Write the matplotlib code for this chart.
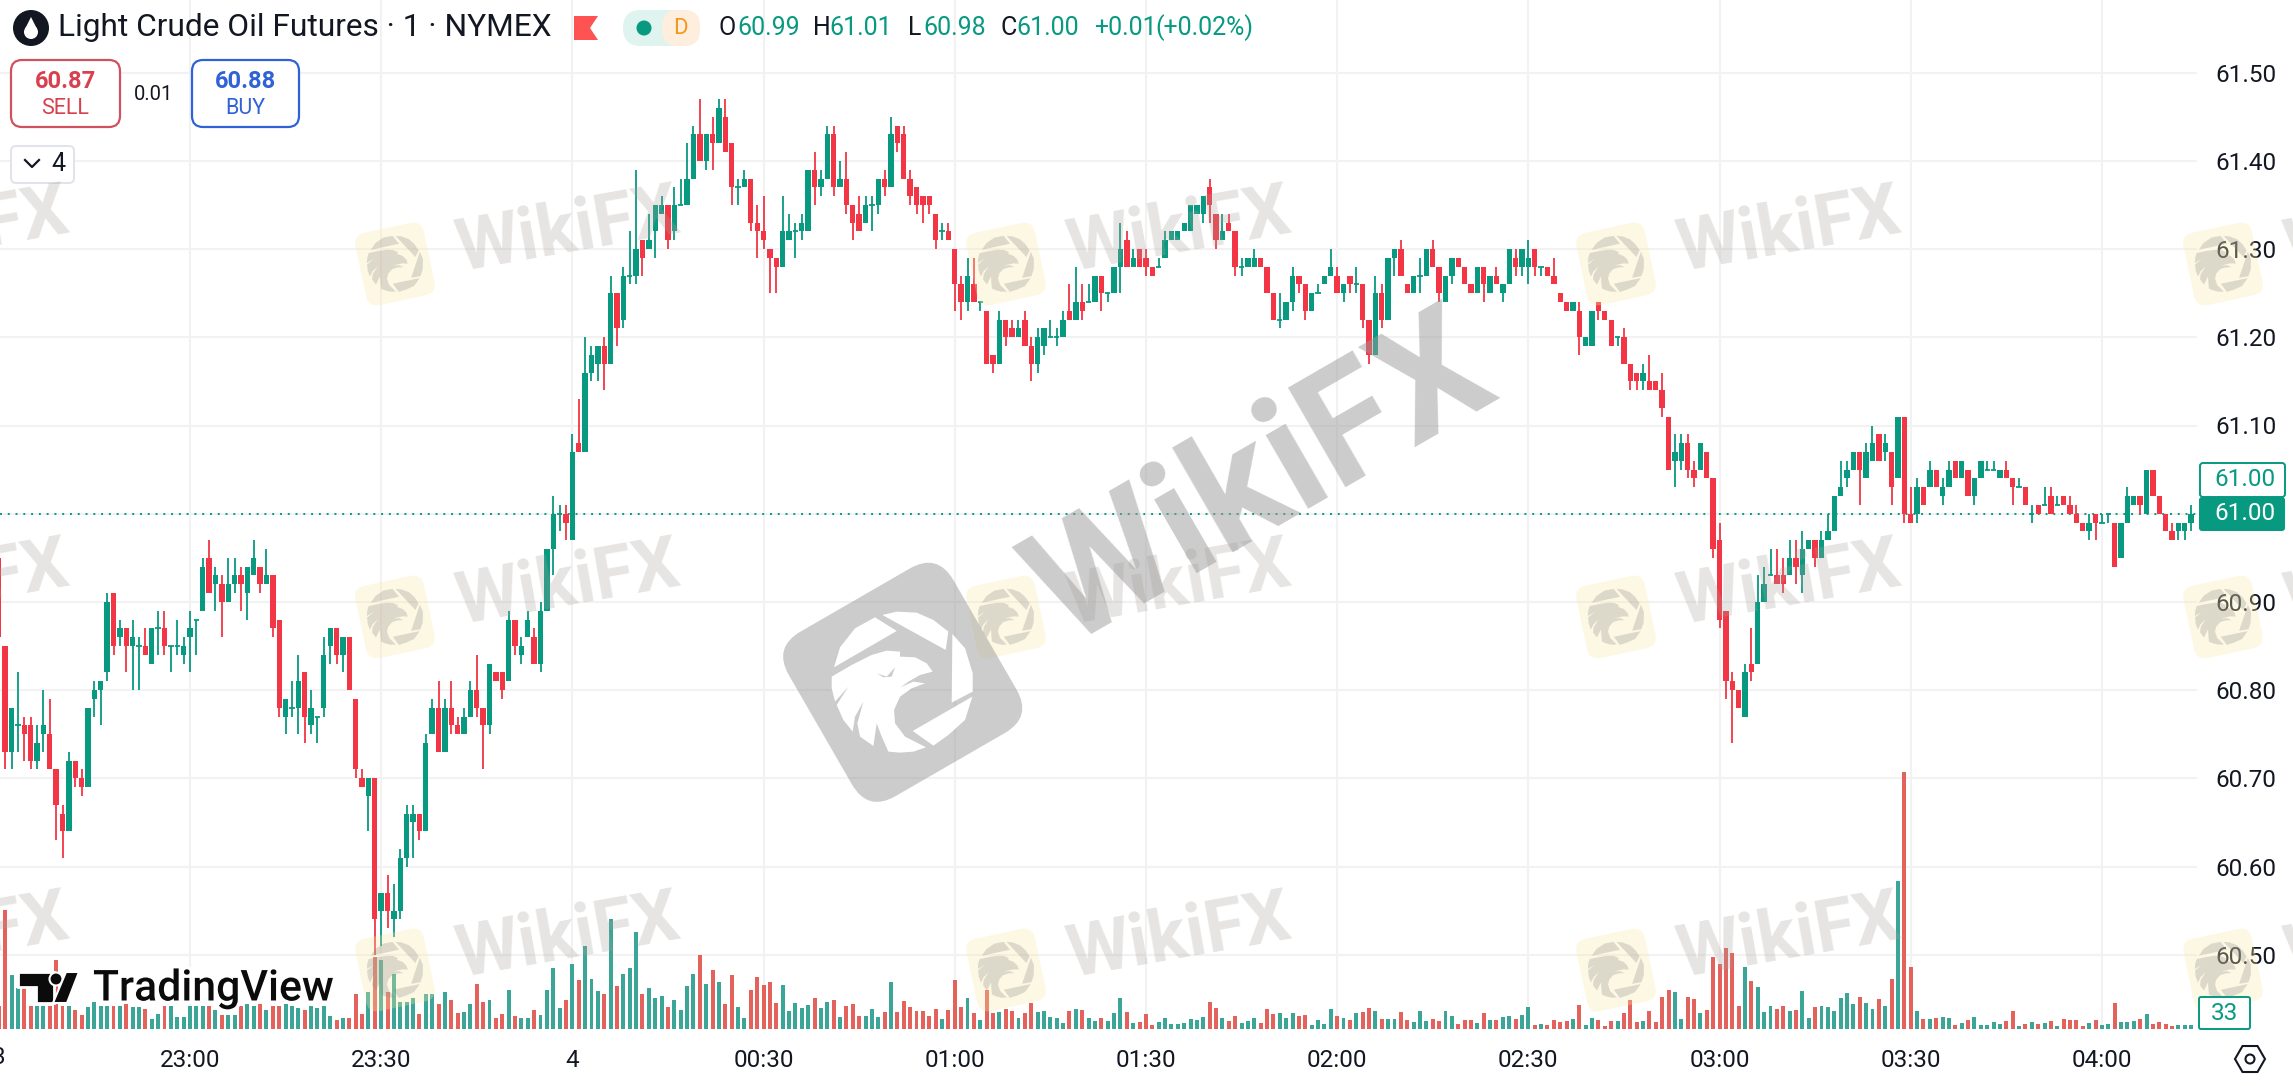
import matplotlib
matplotlib.use("Agg")
import matplotlib.pyplot as plt
import matplotlib.patheffects as pe
from matplotlib.patches import Circle, FancyBboxPatch, Polygon, RegularPolygon
from matplotlib.transforms import Affine2D
import numpy as np

W, H = 2293, 1086
plt.rcParams['font.family'] = ['Roboto', 'DejaVu Sans']

# Prices in cents above 60.00, one row per ten 1-minute bars, first bar is 22:30
opens = [
    95, 85, 73, 76, 76, 76, 72, 75, 75, 71,
    66, 64, 72, 70, 69, 79, 80, 82, 91, 86,
    87, 85, 85, 85, 83, 87, 87, 85, 85, 84,
    86, 88, 89, 95, 92, 92, 90, 92, 93, 91,
    93, 94, 92, 93, 88, 77, 78, 78, 82, 76,
    77, 78, 85, 87, 84, 86, 79, 70, 68, 70,
    55, 57, 54, 55, 61, 65, 66, 64, 75, 78,
    73, 78, 76, 75, 77, 80, 78, 76, 82, 82,
    81, 88, 84, 86, 86, 83, 89, 96, 100, 100,
    97, 108, 107, 116, 117, 119, 117, 125, 122, 127,
    127, 131, 130, 132, 134, 135, 132, 135, 135, 138,
    143, 140, 143, 142, 145, 142, 137, 137, 138, 133,
    132, 130, 129, 128, 131, 132, 132, 132, 139, 137,
    138, 143, 137, 138, 135, 134, 133, 135, 135, 138,
    137, 144, 143, 138, 137, 136, 136, 134, 132, 132,
    130, 126, 124, 126, 124, 123, 118, 117, 122, 121,
    120, 122, 119, 117, 119, 120, 120, 120, 123, 122,
    124, 124, 124, 127, 125, 125, 128, 131, 128, 130,
    129, 128, 128, 129, 131, 131, 132, 132, 134, 134,
    137, 134, 131, 133, 132, 128, 128, 128, 129, 128,
    125, 122, 122, 124, 127, 126, 123, 125, 126, 127,
    127, 125, 127, 126, 126, 122, 118, 125, 122, 129,
    130, 126, 125, 127, 127, 130, 128, 124, 127, 129,
    128, 126, 125, 128, 125, 127, 125, 126, 129, 128,
    128, 130, 128, 128, 127, 125, 124, 123, 123, 119,
    119, 124, 123, 122, 120, 120, 117, 116, 115, 115,
    115, 114, 111, 106, 106, 108, 105, 105, 107, 104,
    97, 89, 81, 80, 77, 83, 83, 90, 93, 93,
    93, 93, 95, 93, 96, 97, 95, 97, 98, 102,
    104, 105, 107, 104, 106, 109, 107, 107, 104, 111,
    100, 100, 103, 103, 105, 102, 103, 106, 104, 105,
    102, 104, 105, 105, 104, 105, 104, 103, 103, 100,
    101, 101, 102, 101, 102, 101, 100, 99, 98, 100,
    99, 100, 99, 95, 99, 101, 102, 100, 105, 102,
    100, 98, 98, 98, 99,
]
highs = [
    95, 85, 78, 82, 77, 77, 76, 80, 79, 71,
    67, 73, 72, 71, 78, 81, 81, 91, 91, 88,
    87, 88, 86, 87, 87, 89, 89, 85, 88, 86,
    89, 88, 95, 97, 94, 93, 95, 95, 94, 94,
    97, 94, 96, 93, 88, 79, 81, 84, 82, 80,
    77, 86, 87, 87, 86, 86, 79, 71, 70, 70,
    57, 59, 58, 62, 67, 67, 66, 75, 79, 81,
    79, 81, 77, 78, 81, 84, 78, 83, 82, 82,
    89, 88, 86, 89, 87, 90, 96, 102, 101, 101,
    109, 113, 120, 119, 119, 120, 127, 125, 128, 132,
    139, 131, 134, 135, 136, 135, 137, 138, 142, 144,
    147, 143, 145, 147, 147, 142, 138, 139, 138, 135,
    136, 130, 129, 136, 134, 133, 134, 139, 141, 139,
    144, 144, 140, 141, 135, 136, 136, 136, 138, 139,
    145, 144, 144, 139, 137, 136, 136, 134, 133, 133,
    130, 127, 129, 129, 124, 123, 118, 123, 122, 122,
    122, 123, 120, 121, 121, 122, 121, 123, 126, 128,
    126, 126, 127, 127, 125, 128, 133, 132, 130, 130,
    130, 128, 129, 132, 132, 132, 133, 135, 135, 136,
    138, 134, 134, 134, 132, 129, 129, 130, 129, 128,
    125, 125, 124, 128, 127, 126, 125, 126, 127, 130,
    128, 126, 127, 128, 126, 122, 127, 126, 129, 130,
    131, 126, 127, 129, 130, 131, 128, 127, 129, 129,
    128, 126, 128, 128, 127, 128, 126, 130, 130, 130,
    131, 130, 128, 128, 129, 125, 124, 124, 124, 120,
    123, 124, 123, 122, 120, 121, 117, 116, 117, 118,
    115, 116, 111, 109, 109, 109, 106, 108, 107, 104,
    99, 89, 82, 80, 83, 87, 93, 94, 96, 96,
    95, 97, 97, 98, 97, 97, 98, 100, 102, 106,
    106, 107, 107, 108, 110, 109, 109, 107, 111, 111,
    103, 104, 103, 106, 105, 104, 106, 106, 106, 105,
    104, 106, 106, 106, 105, 106, 104, 104, 103, 101,
    101, 103, 103, 102, 102, 102, 101, 99, 100, 100,
    100, 100, 99, 99, 103, 102, 102, 105, 105, 102,
    100, 99, 99, 99, 101,
]
lows = [
    86, 71, 71, 73, 72, 71, 71, 73, 71, 63,
    61, 64, 69, 68, 69, 77, 76, 81, 84, 85,
    82, 80, 80, 84, 83, 84, 84, 82, 84, 83,
    82, 84, 89, 91, 89, 86, 90, 91, 89, 88,
    93, 91, 92, 86, 77, 75, 77, 75, 74, 75,
    74, 77, 83, 83, 82, 80, 70, 69, 64, 50,
    51, 53, 52, 54, 60, 61, 63, 64, 75, 73,
    73, 75, 75, 75, 77, 77, 71, 75, 81, 79,
    81, 84, 83, 86, 83, 82, 89, 93, 98, 97,
    97, 107, 107, 115, 115, 114, 117, 119, 121, 126,
    126, 127, 130, 129, 134, 130, 131, 135, 135, 138,
    140, 139, 139, 142, 141, 135, 135, 137, 132, 129,
    130, 125, 125, 128, 131, 129, 131, 132, 135, 136,
    138, 136, 137, 134, 131, 132, 133, 132, 134, 136,
    137, 141, 138, 135, 134, 133, 134, 130, 131, 131,
    123, 122, 123, 124, 123, 117, 116, 117, 119, 120,
    120, 119, 115, 116, 118, 120, 119, 120, 122, 122,
    122, 124, 124, 123, 124, 125, 125, 128, 128, 128,
    127, 127, 128, 129, 131, 131, 132, 132, 134, 133,
    133, 130, 131, 132, 127, 127, 128, 128, 128, 125,
    122, 121, 122, 123, 125, 122, 123, 125, 126, 127,
    125, 124, 125, 125, 121, 117, 118, 121, 122, 127,
    127, 125, 125, 125, 127, 128, 124, 124, 126, 128,
    126, 125, 125, 124, 125, 126, 124, 126, 127, 127,
    126, 127, 127, 127, 126, 124, 123, 123, 118, 119,
    119, 122, 122, 119, 119, 117, 114, 114, 114, 114,
    114, 111, 105, 103, 105, 104, 103, 105, 104, 95,
    87, 79, 74, 78, 77, 81, 83, 90, 93, 92,
    91, 93, 92, 91, 96, 94, 95, 97, 98, 102,
    103, 105, 101, 104, 106, 106, 106, 101, 104, 99,
    99, 99, 101, 103, 103, 101, 103, 104, 104, 102,
    101, 104, 105, 105, 104, 104, 101, 103, 101, 99,
    100, 101, 100, 101, 101, 100, 99, 98, 97, 97,
    99, 99, 94, 95, 99, 101, 100, 100, 102, 100,
    98, 97, 97, 97, 98,
]
closes = [
    86, 73, 78, 76, 75, 72, 74, 76, 71, 67,
    64, 72, 70, 69, 78, 80, 81, 90, 85, 87,
    85, 86, 85, 84, 87, 87, 85, 85, 85, 85,
    87, 88, 94, 91, 93, 90, 92, 93, 92, 94,
    95, 92, 93, 87, 78, 79, 78, 81, 77, 78,
    77, 84, 87, 84, 86, 80, 71, 69, 70, 54,
    57, 55, 55, 61, 66, 66, 64, 74, 78, 73,
    78, 76, 75, 77, 80, 78, 76, 83, 81, 80,
    88, 85, 85, 88, 83, 89, 96, 100, 100, 99,
    107, 107, 116, 118, 119, 117, 125, 121, 127, 127,
    130, 129, 131, 135, 135, 131, 135, 135, 138, 143,
    140, 143, 142, 146, 141, 137, 137, 138, 133, 132,
    131, 129, 128, 132, 132, 132, 133, 139, 137, 138,
    143, 137, 138, 135, 133, 132, 135, 135, 138, 137,
    143, 142, 138, 136, 135, 135, 135, 131, 132, 131,
    126, 124, 127, 124, 124, 117, 117, 122, 120, 120,
    121, 119, 117, 120, 121, 120, 120, 122, 122, 124,
    123, 124, 127, 125, 125, 128, 130, 128, 129, 128,
    128, 127, 128, 131, 132, 132, 133, 135, 135, 136,
    135, 131, 132, 132, 128, 128, 129, 129, 128, 125,
    122, 122, 124, 127, 126, 123, 125, 125, 127, 128,
    125, 126, 126, 126, 122, 118, 125, 122, 129, 130,
    127, 125, 127, 127, 130, 128, 125, 127, 129, 128,
    126, 125, 128, 126, 127, 126, 126, 130, 128, 130,
    129, 128, 128, 127, 126, 124, 123, 124, 120, 120,
    123, 123, 122, 119, 120, 117, 115, 115, 116, 114,
    114, 112, 105, 107, 108, 105, 104, 108, 104, 96,
    88, 81, 80, 78, 82, 82, 90, 92, 93, 92,
    92, 95, 94, 96, 97, 95, 97, 98, 102, 103,
    105, 107, 105, 107, 108, 106, 108, 103, 111, 100,
    99, 103, 101, 105, 103, 103, 105, 104, 106, 102,
    104, 106, 105, 105, 105, 104, 103, 103, 101, 100,
    100, 101, 100, 101, 101, 100, 99, 98, 99, 99,
    99, 100, 94, 99, 102, 102, 101, 105, 102, 100,
    98, 97, 99, 99, 100,
]
volumes = [
    170, 895, 402, 305, 305, 170, 170, 170, 170, 515,
    170, 170, 140, 102, 165, 200, 170, 170, 170, 170,
    190, 165, 165, 148, 72, 115, 170, 170, 90, 90,
    170, 170, 170, 170, 140, 102, 102, 102, 170, 190,
    170, 190, 145, 170, 170, 190, 170, 160, 140, 170,
    160, 170, 95, 65, 80, 80, 260, 115, 275, 540,
    520, 275, 410, 200, 200, 235, 115, 265, 265, 190,
    275, 215, 120, 125, 190, 340, 200, 215, 80, 110,
    290, 95, 85, 85, 145, 102, 290, 460, 155, 215,
    485, 365, 620, 372, 282, 260, 828, 320, 410, 460,
    730, 265, 310, 235, 245, 162, 215, 140, 320, 410,
    552, 335, 440, 350, 185, 402, 162, 80, 290, 388,
    328, 350, 192, 328, 132, 192, 158, 180, 232, 158,
    202, 218, 90, 172, 188, 98, 98, 150, 90, 128,
    352, 128, 210, 165, 135, 135, 98, 150, 75, 142,
    368, 165, 232, 120, 68, 292, 120, 128, 150, 135,
    82, 120, 195, 128, 135, 90, 82, 45, 135, 150,
    142, 82, 60, 82, 60, 120, 232, 128, 45, 52,
    112, 30, 52, 82, 38, 38, 45, 75, 68, 90,
    202, 158, 82, 60, 98, 45, 60, 82, 45, 150,
    112, 120, 82, 120, 98, 105, 30, 68, 38, 150,
    98, 82, 68, 120, 128, 158, 135, 75, 75, 75,
    128, 68, 52, 135, 60, 75, 60, 135, 98, 38,
    68, 68, 45, 120, 68, 68, 90, 98, 75, 105,
    165, 30, 38, 30, 68, 52, 60, 75, 180, 30,
    82, 68, 20, 58, 58, 118, 215, 50, 58, 132,
    50, 238, 290, 275, 72, 238, 222, 118, 140, 538,
    485, 605, 568, 170, 462, 358, 312, 125, 170, 148,
    170, 132, 140, 282, 80, 162, 170, 162, 132, 230,
    268, 185, 238, 192, 148, 222, 170, 372, 1108, 1925,
    462, 132, 72, 72, 80, 88, 80, 28, 42, 65,
    88, 28, 28, 50, 35, 58, 132, 20, 35, 50,
    35, 42, 58, 20, 72, 65, 65, 20, 42, 65,
    28, 35, 192, 50, 50, 58, 72, 110, 35, 50,
    35, 20, 28, 28, 33,
]
time_ticks = [0, 30, 60, 90, 120, 150, 180, 210, 240, 270, 300]
time_labels = ['23:00', '23:30', '4', '00:30', '01:00', '01:30', '02:00', '02:30', '03:00', '03:30', '04:00']
price_ticks = [60.5, 60.6, 60.7, 60.8, 60.9, 61.0, 61.1, 61.2, 61.3, 61.4, 61.5]
last_price = 61.00

GREEN = '#089981'
RED = '#f23645'
VOL_GREEN = '#3ba697'
VOL_RED = '#e4625c'
GRID = '#f2f2f3'

# minutes relative to 23:00
minutes = np.arange(len(opens)) - 30
o = 60 + np.array(opens) / 100
h = 60 + np.array(highs) / 100
l = 60 + np.array(lows) / 100
c = 60 + np.array(closes) / 100
up = c >= o
colors = [GREEN if u else RED for u in up]

fig = plt.figure(figsize=(W / 100, H / 100), dpi=100, facecolor='white')
ax = fig.add_axes([0, (H - 1030) / H, 2197 / W, 1030 / H])
ax.set_xlim(-29.81, 314.92)
ax.set_ylim(61.5 - 957.3 / 882, 61.5 + 72.7 / 882)

ax.grid(True, color=GRID, linewidth=1.5)
ax.set_axisbelow(True)
for s in ax.spines.values():
    s.set_visible(False)

# Candles
ax.vlines(minutes, l, h, colors=colors, linewidth=1.3, zorder=3)
ax.bar(minutes, np.abs(c - o), bottom=np.minimum(o, c), width=0.84, color=colors, linewidth=0, zorder=4)
flat = o == c
ax.hlines(o[flat], minutes[flat] - 0.42, minutes[flat] + 0.42, colors=GREEN, linewidth=1.3, zorder=4)
ax.axhline(last_price, color=GREEN, linewidth=1.4, linestyle=(0, (1, 3)), zorder=2)

# Volume pane shares the same axes area
vol_ax = ax.twinx()
vol_ax.set_ylim(-7.5, 1029 * 7.5)
vol_ax.bar(minutes, volumes, width=0.62, color=[VOL_GREEN if u else VOL_RED for u in up], linewidth=0)
vol_ax.set_yticks([])
for s in vol_ax.spines.values():
    s.set_visible(False)

ax.yaxis.tick_right()
ax.set_yticks(price_ticks)
ax.set_yticklabels(['%.2f' % p for p in price_ticks])
ax.set_xticks(time_ticks)
ax.set_xticklabels(time_labels)
ax.tick_params(axis='both', length=0, labelsize=17.5, labelcolor='#131722')
ax.tick_params(axis='y', pad=13)
ax.tick_params(axis='x', pad=14)

# Everything else is placed in pixels of the picture
over = fig.add_axes([0, 0, 1, 1], zorder=10)
over.set_xlim(0, W)
over.set_ylim(H, 0)
over.axis('off')

# Watermark emblem outlines, pixels around the middle of the big mark
emblem_parts = [
    [(162, 322), (180, 262), (225, 205), (285, 172), (350, 213)],
    [(307, 165), (350, 155), (410, 158), (460, 180), (505, 215), (497, 270)],
    [(517, 222), (555, 265), (578, 340), (578, 395), (515, 428)],
    [(577, 410), (555, 480), (505, 525), (460, 557), (398, 513)],
    [(155, 350), (215, 315), (275, 285), (320, 272), (360, 275), (360, 290), (405, 292), (440, 310),
     (458, 335), (420, 345), (385, 365), (362, 382), (400, 365), (435, 370), (395, 385), (360, 410),
     (342, 450), (345, 490), (375, 530), (438, 562), (400, 575), (360, 578), (325, 575), (305, 530),
     (290, 490), (280, 558), (240, 530), (232, 490), (250, 425), (225, 470), (218, 515), (190, 480),
     (170, 435), (205, 380), (165, 425), (155, 385)],
]
eye_part = [(290, 340), (320, 350), (345, 322), (335, 350), (310, 352)]


def rot(cx, cy, angle):
    return Affine2D().rotate_deg_around(cx, cy, angle) + over.transData


def emblem(transform, color, alpha, eye_color=None):
    for part in emblem_parts:
        pts = [((x - 368) / 3, (y - 367) / 3) for x, y in part]
        over.add_patch(Polygon(pts, facecolor=color, edgecolor='none', alpha=alpha, transform=transform))
    if eye_color:
        pts = [((x - 368) / 3, (y - 367) / 3) for x, y in eye_part]
        over.add_patch(Polygon(pts, facecolor=eye_color, edgecolor='none', transform=transform))


def small_mark(cx, cy):
    over.add_patch(FancyBboxPatch((cx - 35, cy - 37), 70, 74, boxstyle='round,pad=0,rounding_size=12',
                                  facecolor='#fbe9a8', edgecolor='none', alpha=0.3, transform=rot(cx, cy, -12)))
    tr = Affine2D().scale(0.4).rotate_deg(18).translate(cx, cy) + over.transData
    emblem(tr, '#8c8a88', 0.28)
    over.text(cx + 173, cy - 32, 'WikiFX', fontsize=52, fontweight='bold', color='#a8a29c', alpha=0.28,
              rotation=10, rotation_mode='anchor', ha='center', va='center')


for row_y in [264, 617, 970]:
    for col_x in [-216, 395, 1006, 1616, 2223]:
        small_mark(col_x, row_y)

# Big centre mark
grey = '#9a9a9a'
over.add_patch(FancyBboxPatch((902.7 - 95, 682.3 - 95), 190, 190, boxstyle='round,pad=0,rounding_size=32',
                              facecolor=grey, edgecolor='none', alpha=0.5, transform=rot(902.7, 682.3, -30)))
emblem(Affine2D().translate(902.7, 682.3) + over.transData, 'white', 1, eye_color='#cccccc')
over.text(1262, 483, 'WikiFX', fontsize=116, fontweight='bold', color=grey, alpha=0.5,
          rotation=30, rotation_mode='anchor', ha='center', va='center')

# Header
over.add_patch(Circle((31, 28), 18, facecolor='#131722', edgecolor='none'))
over.add_patch(Circle((31, 32), 7, facecolor='white', edgecolor='none'))
over.add_patch(Polygon([(31, 17), (25, 29), (37, 29)], facecolor='white', edgecolor='none'))
over.text(58, 28, 'Light Crude Oil Futures \u00b7 1 \u00b7 NYMEX', fontsize=22.8, color='#131722', va='center')
over.add_patch(Polygon([(574, 16), (598, 16), (590, 28), (598, 40), (574, 40)], facecolor='#ff5252', edgecolor='none'))
over.add_patch(FancyBboxPatch((623, 10), 77, 36, boxstyle='round,pad=0,rounding_size=18',
                              facecolor='#dff3ef', edgecolor='none'))
over.add_patch(FancyBboxPatch((662, 10), 38, 36, boxstyle='round,pad=0,rounding_size=16',
                              facecolor='#fdeedd', edgecolor='none'))
over.add_patch(Circle((644, 28), 7.5, facecolor=GREEN, edgecolor='none'))
over.text(680, 28, 'D', fontsize=16, color='#f5961d', ha='center', va='center')

ohlc = [(718, 'O', '#131722'), (737, '60.99', GREEN), (813, 'H', '#131722'), (829, '61.01', GREEN),
        (908, 'L', '#131722'), (923, '60.98', GREEN), (1000, 'C', '#131722'), (1016, '61.00', GREEN),
        (1094, '+0.01', GREEN), (1155, '(+0.02%)', GREEN)]
for x, t, col in ohlc:
    over.text(x, 28, t, fontsize=18, color=col, va='center')

# Sell / buy buttons
over.add_patch(FancyBboxPatch((11, 60), 109, 67, boxstyle='round,pad=0,rounding_size=11',
                              facecolor='white', edgecolor='#d0525e', linewidth=1.6))
over.text(65, 81, '60.87', fontsize=17, fontweight='bold', color='#d8404f', ha='center', va='center')
over.text(65, 108, 'SELL', fontsize=15.5, color='#d8404f', ha='center', va='center')
over.text(154, 95, '0.01', fontsize=14.5, color='#131722', ha='center', va='center')
over.add_patch(FancyBboxPatch((192, 60), 107, 67, boxstyle='round,pad=0,rounding_size=11',
                              facecolor='white', edgecolor='#2f62d6', linewidth=1.6))
over.text(245, 81, '60.88', fontsize=17, fontweight='bold', color='#2f62d6', ha='center', va='center')
over.text(245, 108, 'BUY', fontsize=15.5, color='#2f62d6', ha='center', va='center')
over.add_patch(FancyBboxPatch((11, 146), 63, 37, boxstyle='round,pad=0,rounding_size=5',
                              facecolor='white', edgecolor='#e0e3eb', linewidth=1.4))
over.plot([25, 32, 39], [160, 167, 160], color='#131722', linewidth=1.6)
over.text(58, 164, '4', fontsize=18, color='#131722', ha='center', va='center')

# Last price labels on the scale
over.add_patch(FancyBboxPatch((2200, 463), 85, 34, boxstyle='round,pad=0,rounding_size=3',
                              facecolor='white', edgecolor=GREEN, linewidth=1.4))
over.text(2245, 480, '61.00', fontsize=17.5, color=GREEN, ha='center', va='center')
over.add_patch(FancyBboxPatch((2199, 497), 86, 34, boxstyle='round,pad=0,rounding_size=3',
                              facecolor=GREEN, edgecolor='none'))
over.text(2245, 514, '61.00', fontsize=17.5, color='white', ha='center', va='center')
over.add_patch(FancyBboxPatch((2199, 997), 51, 32, boxstyle='round,pad=0,rounding_size=2',
                              facecolor='white', edgecolor=GREEN, linewidth=1.4))
over.text(2225, 1013, '33', fontsize=17.5, color=GREEN, ha='center', va='center')

over.text(-1, 1058, '3', fontsize=17.5, color='#131722', ha='center', va='center')
over.add_patch(RegularPolygon((2250, 1059), 6, radius=15, orientation=np.pi / 2,
                              facecolor='white', edgecolor='#131722', linewidth=1.5))
over.add_patch(Circle((2250, 1059), 4.5, facecolor='white', edgecolor='#131722', linewidth=1.5))

# TradingView logo
halo = [pe.withStroke(linewidth=5, foreground='white')]
over.add_patch(Polygon([(18, 972), (54, 972), (54, 1003), (36, 1003), (36, 987), (18, 987)],
                       facecolor='#0b0b0b', edgecolor='white', linewidth=2))
over.add_patch(Circle((56, 979), 6.5, facecolor='#0b0b0b', edgecolor='white', linewidth=1.5))
over.add_patch(Polygon([(66, 972), (79, 972), (67, 1003), (53, 1003)], facecolor='#0b0b0b', edgecolor='white', linewidth=1.5))
over.text(93, 989, 'TradingView', fontsize=30.8, fontweight='medium', color='#0b0b0b', va='center', path_effects=halo)

fig.savefig('out.png', dpi=100, facecolor='white')
